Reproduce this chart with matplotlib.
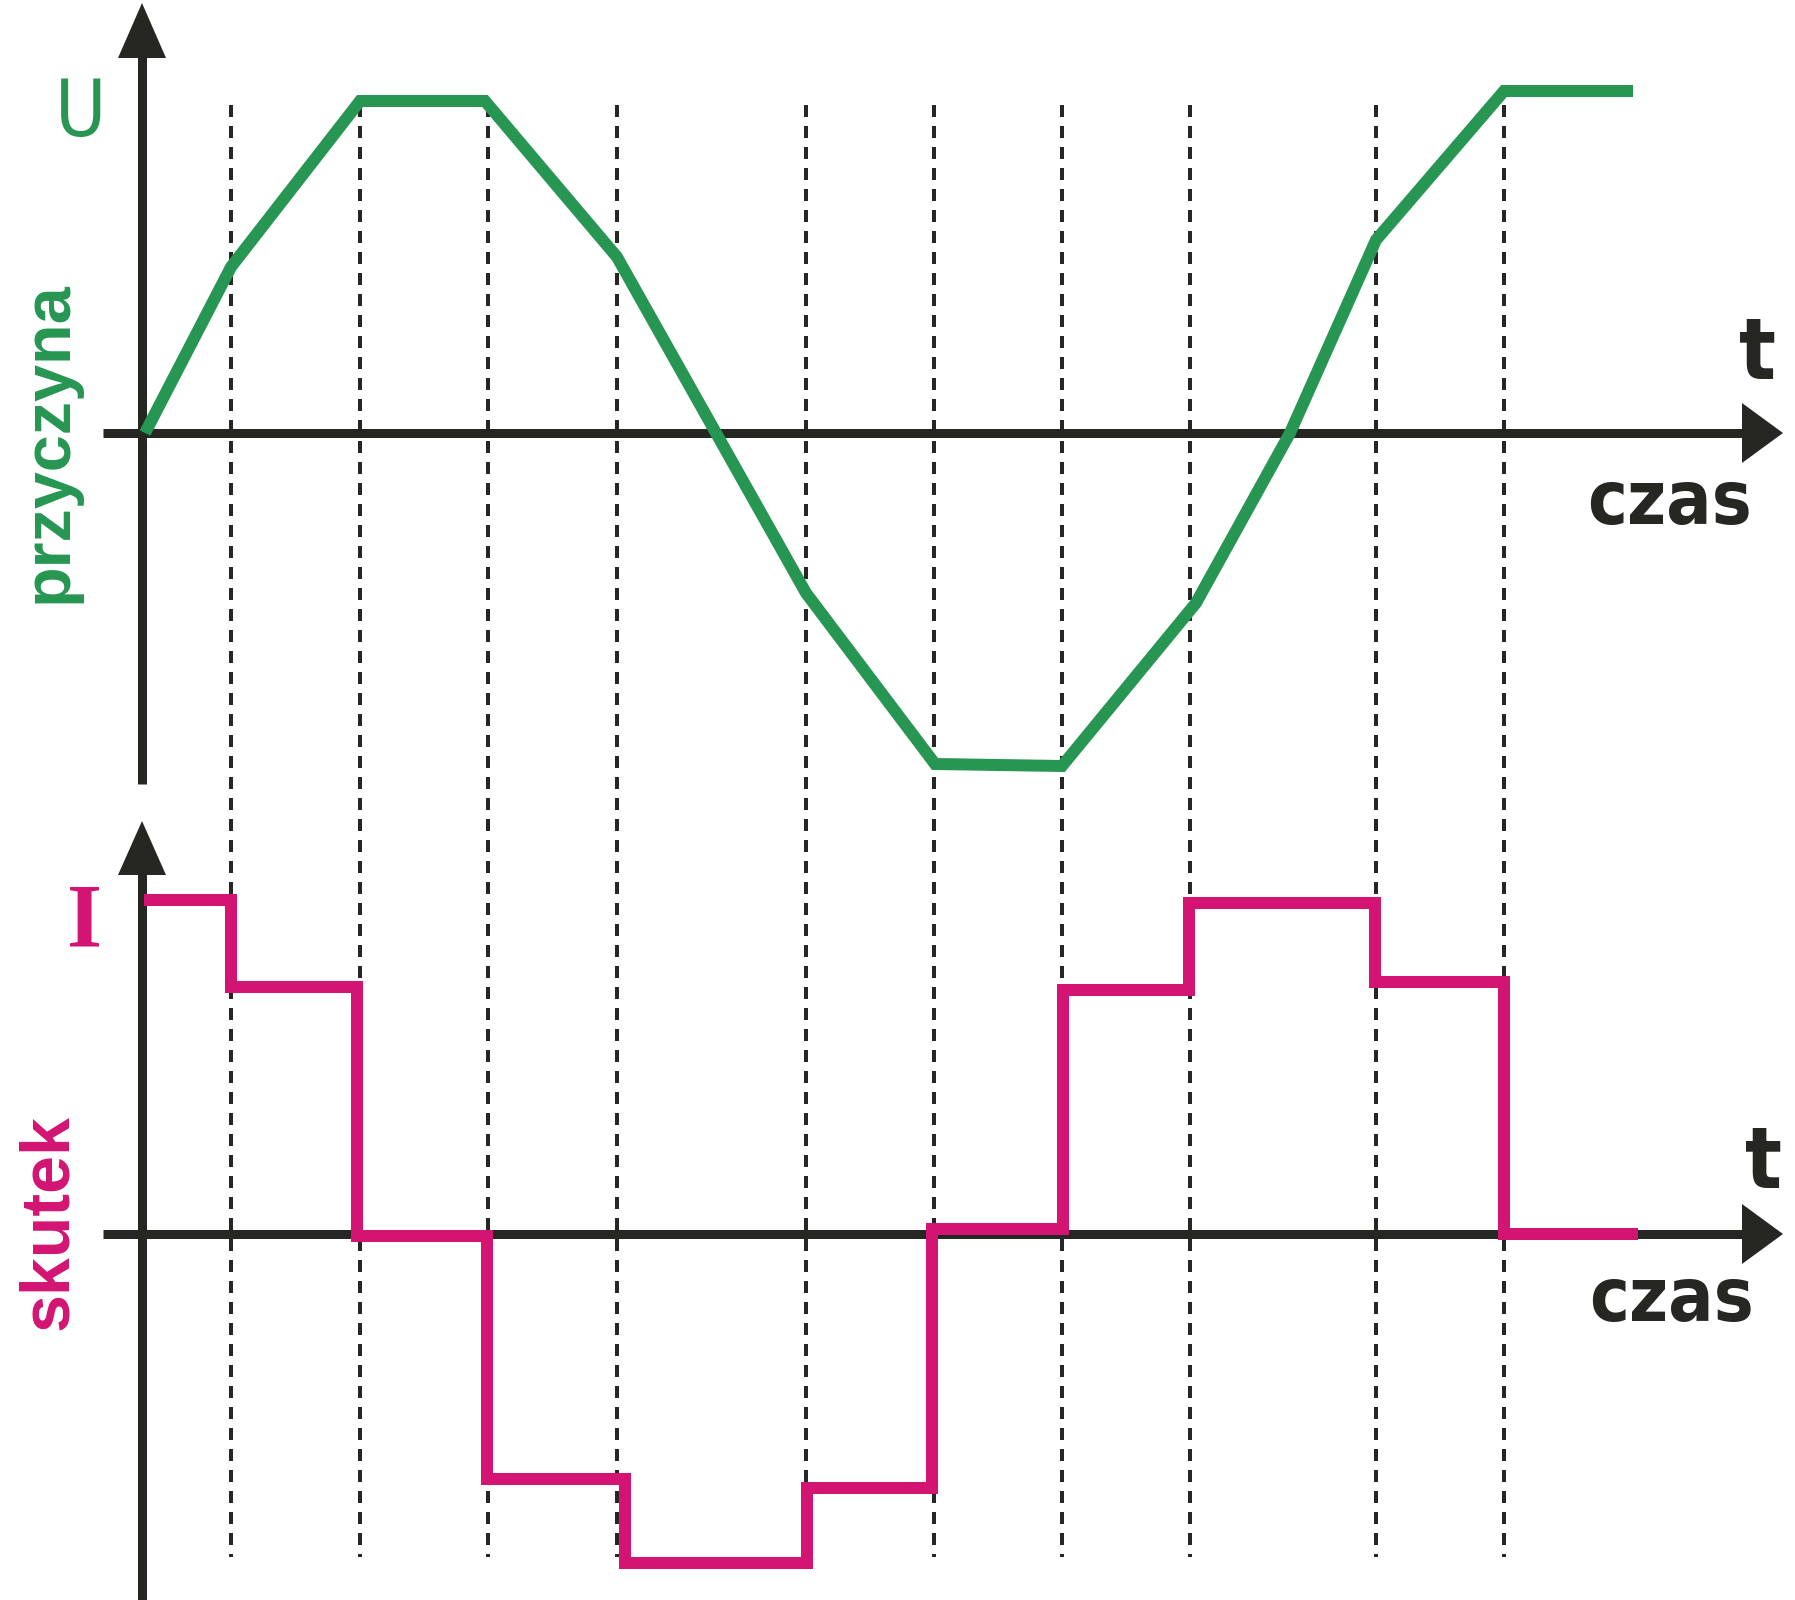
import matplotlib
matplotlib.use("Agg")
import matplotlib.pyplot as plt
from matplotlib.patches import Polygon

# ---------------- data (pixel-like units of the drawing) ----------------
# time grid (dashed markers)
t_marks = [231, 360, 488, 617, 806, 934, 1062, 1190, 1376, 1504]

# cause: U(t), relative to its time axis (positive = up)
t_U = [145, 231, 360, 485, 617, 806, 935, 1062, 1196, 1290, 1376, 1504, 1633]
U_vals = [0, 166, 332, 332, 176, -160, -331, -333, -170, 0, 193, 342, 342]

# effect: I(t), step function, edges and levels (positive = up)
t_I_edges = [144, 231, 357, 487, 625, 807, 932, 1063, 1189, 1375, 1504, 1638]
I_levels = [334, 247, -2, -245, -329, -254, 5, 244, 331, 252, 0]

# labels
label_U = "U"
label_I = "I"
label_top = "przyczyna"
label_bottom = "skutek"
label_t = "t"
label_time = "czas"

# ---------------- layout ----------------
W, H = 1795, 1600
axis_top_y = 433
axis_bot_y = 1234
axis_x = 142

GREEN = "#279652"
PINK = "#D31472"
DARK = "#262723"

fig = plt.figure(figsize=(W / 100, H / 100), dpi=100)
ax = fig.add_axes([0, 0, 1, 1])
ax.set_xlim(0, W)
ax.set_ylim(H, 0)
ax.axis("off")

PX = 72 / 100  # points per pixel

# dashed time markers
for tm in t_marks:
    ax.plot([tm, tm], [105, 1557], color=DARK, lw=4 * PX,
            dashes=(12 / 4, 9 / 4), solid_capstyle="butt",
            dash_capstyle="butt", zorder=1)

# axes lines
ax_lw = 9 * PX
for y0 in (axis_top_y, axis_bot_y):
    ax.plot([103, 1745], [y0, y0], color=DARK, lw=ax_lw,
            solid_capstyle="butt", zorder=2)
ax.plot([axis_x, axis_x], [55, 784], color=DARK, lw=ax_lw,
        solid_capstyle="butt", zorder=2)
ax.plot([axis_x, axis_x], [872, 1600], color=DARK, lw=ax_lw,
        solid_capstyle="butt", zorder=2)

# arrow heads
def arrow_up(x, tip, base, hw):
    ax.add_patch(Polygon([[x, tip], [x - hw, base], [x + hw, base]],
                         closed=True, color=DARK, lw=0, zorder=4))

def arrow_right(y, tip, base, hh):
    ax.add_patch(Polygon([[tip, y], [base, y - hh], [base, y + hh]],
                         closed=True, color=DARK, lw=0, zorder=4))

arrow_up(axis_x, 3, 58, 24)
arrow_up(axis_x, 821, 875, 24)
arrow_right(axis_top_y, 1783, 1742, 30)
arrow_right(axis_bot_y, 1783, 1742, 30)

# cause curve
ax.plot(t_U, [axis_top_y - u for u in U_vals], color=GREEN, lw=12 * PX,
        solid_joinstyle="miter", solid_capstyle="butt", zorder=3)

# effect step curve
xs, ys = [], []
for i, lev in enumerate(I_levels):
    xs += [t_I_edges[i], t_I_edges[i + 1]]
    ys += [axis_bot_y - lev, axis_bot_y - lev]
ax.plot(xs, ys, color=PINK, lw=12 * PX, solid_joinstyle="miter",
        solid_capstyle="butt", zorder=3)

# texts
narrow = ["DejaVu Sans"]
ax.text(81, 136, label_U, color=GREEN, fontsize=56, family=narrow,
        fontstretch="condensed", ha="center", va="baseline")
ax.text(85, 947, label_I, color=PINK, fontsize=65, family="Liberation Serif",
        fontweight="bold", ha="center", va="baseline")
ax.text(67, 442, label_top, color=GREEN, fontsize=48, family="Liberation Sans",
        fontweight="bold", rotation=90, rotation_mode="anchor",
        ha="center", va="baseline")
ax.text(67, 1222, label_bottom, color=PINK, fontsize=49, family="Liberation Sans",
        fontweight="bold", rotation=90, rotation_mode="anchor",
        ha="center", va="baseline")
for (tx, ty), (cx, cy) in (((1758, 379), (1670, 524)),
                           ((1763, 1188), (1671, 1321))):
    ax.text(tx, ty, label_t, color=DARK, fontsize=62, family=narrow,
            fontweight="bold", fontstretch="condensed",
            ha="center", va="baseline")
    ax.text(cx, cy, label_time, color=DARK, fontsize=54, family=narrow,
            fontweight="bold", fontstretch="condensed",
            ha="center", va="baseline")

fig.savefig("out.png", dpi=100, facecolor="white")
